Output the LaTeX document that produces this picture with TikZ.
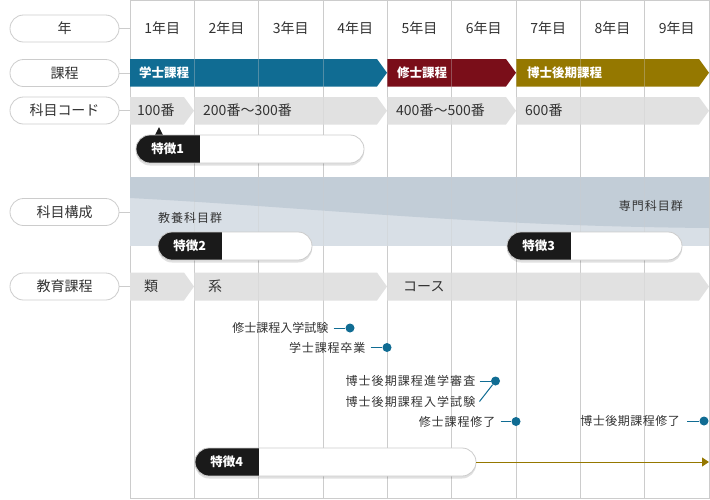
\documentclass[tikz,border=0pt]{standalone}
\usepackage{fontspec}
\setmainfont{Noto Sans CJK JP}
\usetikzlibrary{arrows.meta,shapes.misc,shadows}
\definecolor{gridc}{HTML}{CCCCCC}
\definecolor{txt}{HTML}{333333}
\definecolor{blueC}{HTML}{106C93}
\definecolor{redC}{HTML}{7A0E19}
\definecolor{oliveC}{HTML}{957800}
\definecolor{barC}{HTML}{E1E1E1}
\definecolor{bandL}{HTML}{D8DFE6}
\definecolor{bandD}{HTML}{C2CDD7}
\definecolor{pillK}{HTML}{1A1A1A}
\newcommand\mybar[5]{\fill[#5] (#1,#3) -- ({#2-10},#3) -- (#2,{(#3+#4)/2}) -- ({#2-10},#4) -- (#1,#4) -- cycle;}
\begin{document}
\begin{tikzpicture}[x=1pt,y=-1pt,
  gridline/.style={gridc, line width=1pt},
  leftlbl/.style={rounded rectangle, draw=gridc, fill=white, line width=0.8pt, minimum width=109pt, minimum height=27pt, inner sep=0pt, font=\fontsize{14}{16}\selectfont, text=txt},
  yearlbl/.style={font=\fontsize{14}{16}\selectfont, text=txt, inner sep=0pt},
  codelbl/.style={font=\fontsize{14}{16}\selectfont, text=txt, inner sep=0pt, anchor=west},
  barlbl/.style={font=\fontsize{12.5}{15}\selectfont\bfseries, text=white, inner sep=0pt, anchor=west},
  bandlbl/.style={font=\fontsize{12}{14}\selectfont\addfontfeature{LetterSpace=8}, text=txt, inner sep=0pt},
  feat/.style={rounded rectangle, draw=gridc, fill=white, line width=0.8pt, minimum height=28pt, inner sep=0pt,
    drop shadow={shadow xshift=0pt, shadow yshift=-2.5pt, fill=black, opacity=0.12},
    path picture={\fill[pillK] (path picture bounding box.north west) rectangle ([xshift=64pt]path picture bounding box.south west);}},
  feattext/.style={font=\fontsize{12.5}{15}\selectfont\bfseries, text=white, inner sep=0pt},
  evtext/.style={font=\fontsize{12}{14}\selectfont\addfontfeature{LetterSpace=#1}, text=txt, inner sep=0pt, anchor=east},
  evtext/.default=0,
  evdot/.style={circle, fill=blueC, minimum size=9pt, inner sep=0pt},
  evline/.style={blueC, line width=1pt}]
\useasboundingbox (0,0) rectangle (710,499);
\fill[white] (0,0) rectangle (710,499);
\coordinate (gridL) at (130,0);
% grid
\foreach \i in {1,...,8} \draw[gridline] ({130+\i*64.333},0) -- ({130+\i*64.333},499);
\draw[gridline] (130,0.5) rectangle (709,498.5);
% band
\fill[bandL] (130,177) rectangle (709,245.5);
\fill[bandD] (130,177) -- (709,177) -- (709,228) .. controls (470,226) and (320,208) .. (130,198) -- cycle;
% course bars
\mybar{130}{387}{59}{86.5}{blueC}
\mybar{387}{516}{59}{86.5}{redC}
\mybar{516}{709}{59}{86.5}{oliveC}
% code bars
\mybar{130}{194}{97}{124.5}{barC}
\mybar{194}{387}{97}{124.5}{barC}
\mybar{387}{516}{97}{124.5}{barC}
\mybar{516}{709}{97}{124.5}{barC}
% curriculum bars
\mybar{130}{194}{272.5}{300.5}{barC}
\mybar{194}{387}{272.5}{300.5}{barC}
\mybar{387}{709}{272.5}{300.5}{barC}
% grid overlay
\foreach \i in {1,...,8} \draw[gridline, opacity=0.35] ({130+\i*64.333},0) -- ({130+\i*64.333},499);
% left labels
\node[leftlbl] (l1) at (64.5,28.5) {年};
\node[leftlbl] (l2) at (64.5,73) {課程};
\node[leftlbl] (l3) at (64.5,110.5) {科目コード};
\node[leftlbl] (l4) at (64.5,212) {科目構成};
\node[leftlbl] (l5) at (64.5,286.5) {教育課程};
\foreach \n in {l1,l2,l3,l4,l5} \draw[gridline] (\n.east) -- (\n.east -| gridL);
% years
\foreach \i in {1,...,9} \node[yearlbl] (y\i) at ({130+(\i-0.5)*64.333},28) {\i 年目};
% bar labels
\node[barlbl] (c1) at (139,73) {学士課程};
\node[barlbl] (c2) at (397,73) {修士課程};
\node[barlbl] (c3) at (527,73) {博士後期課程};
\node[codelbl] (k1) at (137,110.5) {100番};
\node[codelbl] (k2) at (203,110.5) {200番〜300番};
\node[codelbl] (k3) at (396,110.5) {400番〜500番};
\node[codelbl] (k4) at (525,110.5) {600番};
\node[codelbl] (e1) at (144,286.5) {類};
\node[codelbl] (e2) at (208,286.5) {系};
\node[codelbl] (e3) at (403,286.5) {コース};
% band labels
\node[bandlbl, anchor=west] (b1) at (158,218) {教養科目群};
\node[bandlbl, anchor=east] (b2) at (683,206) {専門科目群};
% features
\fill[pillK] (159,127) -- (163.5,136) -- (154.5,136) -- cycle;
\node[feat, minimum width=228pt] (f1) at (250,149) {};
\node[feattext] (f1t) at ([xshift=32pt]f1.west) {特徴1};
\node[feat, minimum width=154pt] (f2) at (235,246) {};
\node[feattext] (f2t) at ([xshift=32pt]f2.west) {特徴2};
\node[feat, minimum width=175pt] (f3) at (594.5,246) {};
\node[feattext] (f3t) at ([xshift=32pt]f3.west) {特徴3};
\node[feat, minimum width=281pt] (f4) at (335.5,462) {};
\node[feattext] (f4t) at ([xshift=32pt]f4.west) {特徴4};
\coordinate (arrEnd) at (709,462);
\draw[oliveC, line width=1pt, -{Triangle[length=7pt,width=9pt]}] (f4.east) -- (arrEnd);
% events
\node[evtext] (t1) at (328.5,328) {修士課程入学試験};
\node[evtext=7] (t2) at (365.5,347.5) {学士課程卒業};
\node[evtext=9] (t3) at (475.5,381) {博士後期課程進学審査};
\node[evtext=9] (t4) at (475.5,401.5) {博士後期課程入学試験};
\node[evtext=7.5] (t5) at (495.5,421.5) {修士課程修了};
\node[evtext=4] (t6) at (680,421) {博士後期課程修了};
\node[evdot] (d1) at (350,328) {};
\node[evdot] (d2) at (387,347.5) {};
\node[evdot] (d3) at (495.5,381) {};
\node[evdot] (d5) at (516,421.5) {};
\node[evdot] (d6) at (704,421) {};
\draw[evline] ([xshift=5pt]t1.east) -- (d1);
\draw[evline] ([xshift=5pt]t2.east) -- (d2);
\draw[evline] ([xshift=4pt]t3.east) -- (d3);
\draw[evline] ([xshift=4pt]t4.east) -- (d3);
\draw[evline] ([xshift=5pt]t5.east) -- (d5);
\draw[evline] ([xshift=7pt]t6.east) -- (d6);
\end{tikzpicture}
\end{document}
